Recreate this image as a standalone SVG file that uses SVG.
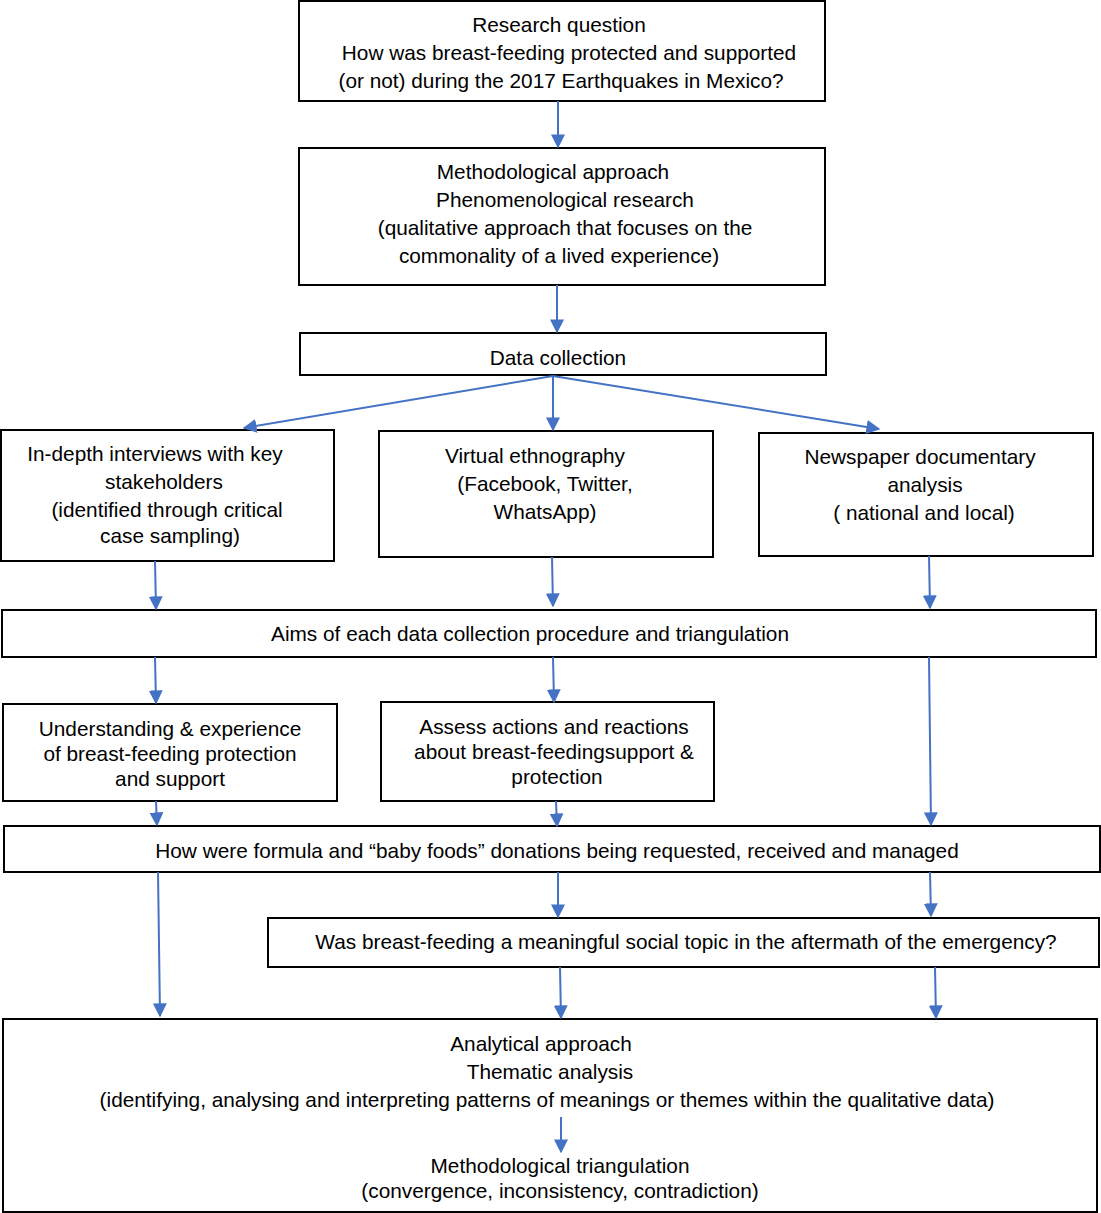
<svg xmlns="http://www.w3.org/2000/svg" width="1101" height="1213" viewBox="0 0 1101 1213">
<defs>
<style>
rect{fill:#fff;stroke:#000;stroke-width:2}
text{font-family:"Liberation Sans",Arial,sans-serif;font-size:20.8px;fill:#000;text-anchor:middle}
.c line{stroke:#4472C4;stroke-width:2}
</style>
<marker id="a" viewBox="0 0 10 10" refX="9" refY="5" markerWidth="14" markerHeight="14" markerUnits="userSpaceOnUse" orient="auto"><path d="M0,0L10,5L0,10z" fill="#4472C4"/></marker>
</defs>
<rect width="1101" height="1213" style="stroke:none"/>
<g id="n1"><rect x="299" y="1" width="526" height="100"/>
<text x="559" y="32">Research question</text>
<text x="569" y="60">How was breast-feeding protected and supported</text>
<text x="561" y="88">(or not) during the 2017 Earthquakes in Mexico?</text></g>
<g id="n2"><rect x="299" y="148" width="526" height="137"/>
<text x="553" y="179">Methodological approach</text>
<text x="565" y="207">Phenomenological research</text>
<text x="565" y="235">(qualitative approach that focuses on the</text>
<text x="559" y="263">commonality of a lived experience)</text></g>
<g id="n3"><rect x="300" y="333" width="526" height="42"/>
<text x="558" y="365">Data collection</text></g>
<g id="n4"><rect x="1" y="430" width="333" height="131"/>
<text x="155" y="461">In-depth interviews with key</text>
<text x="164" y="489">stakeholders</text>
<text x="167" y="517">(identified through critical</text>
<text x="170" y="543">case sampling)</text></g>
<g id="n5"><rect x="379" y="431" width="334" height="126"/>
<text x="535" y="463">Virtual ethnography</text>
<text x="545" y="491">(Facebook, Twitter,</text>
<text x="545" y="519">WhatsApp)</text></g>
<g id="n6"><rect x="759" y="433" width="334" height="123"/>
<text x="920" y="464">Newspaper documentary</text>
<text x="925" y="492">analysis</text>
<text x="924" y="520">( national and local)</text></g>
<g id="n7"><rect x="2" y="610" width="1094" height="47"/>
<text x="530" y="641">Aims of each data collection procedure and triangulation</text></g>
<g id="n8"><rect x="3" y="704" width="334" height="97"/>
<text x="170" y="736">Understanding &amp; experience</text>
<text x="170" y="761">of breast-feeding protection</text>
<text x="170" y="786">and support</text></g>
<g id="n9"><rect x="381" y="702" width="333" height="99"/>
<text x="554" y="734">Assess actions and reactions</text>
<text x="554" y="759">about breast-feedingsupport &amp;</text>
<text x="557" y="784">protection</text></g>
<g id="n10"><rect x="4" y="826" width="1096" height="46"/>
<text x="557" y="858">How were formula and “baby foods” donations being requested, received and managed</text></g>
<g id="n11"><rect x="268" y="918" width="831" height="49"/>
<text x="686" y="949">Was breast-feeding a meaningful social topic in the aftermath of the emergency?</text></g>
<g id="n12"><rect x="3" y="1019" width="1094" height="193"/>
<text x="541" y="1051">Analytical approach</text>
<text x="550" y="1079">Thematic analysis</text>
<text x="547" y="1107">(identifying, analysing and interpreting patterns of meanings or themes within the qualitative data)</text>
<text x="560" y="1173">Methodological triangulation</text>
<text x="560" y="1198">(convergence, inconsistency, contradiction)</text></g>
<g id="connectors" class="c">
<line x1="558" y1="101" x2="558" y2="147" marker-end="url(#a)"/>
<line x1="557" y1="285" x2="557" y2="332" marker-end="url(#a)"/>
<line x1="553" y1="376" x2="244" y2="428" marker-end="url(#a)"/>
<line x1="553" y1="376" x2="553" y2="430" marker-end="url(#a)"/>
<line x1="553" y1="376" x2="879" y2="429" marker-end="url(#a)"/>
<line x1="155" y1="561" x2="156" y2="609" marker-end="url(#a)"/>
<line x1="552" y1="557" x2="553" y2="606" marker-end="url(#a)"/>
<line x1="929" y1="556" x2="930" y2="608" marker-end="url(#a)"/>
<line x1="155" y1="657" x2="156" y2="703" marker-end="url(#a)"/>
<line x1="553" y1="657" x2="554" y2="702" marker-end="url(#a)"/>
<line x1="929" y1="657" x2="931" y2="825" marker-end="url(#a)"/>
<line x1="156" y1="801" x2="157" y2="825" marker-end="url(#a)"/>
<line x1="556" y1="801" x2="557" y2="826" marker-end="url(#a)"/>
<line x1="158" y1="872" x2="160" y2="1016" marker-end="url(#a)"/>
<line x1="558" y1="872" x2="558" y2="917" marker-end="url(#a)"/>
<line x1="930" y1="872" x2="931" y2="916" marker-end="url(#a)"/>
<line x1="560" y1="967" x2="561" y2="1018" marker-end="url(#a)"/>
<line x1="935" y1="967" x2="936" y2="1018" marker-end="url(#a)"/>
<line x1="561" y1="1117" x2="561" y2="1152" marker-end="url(#a)"/>
</g>
</svg>
